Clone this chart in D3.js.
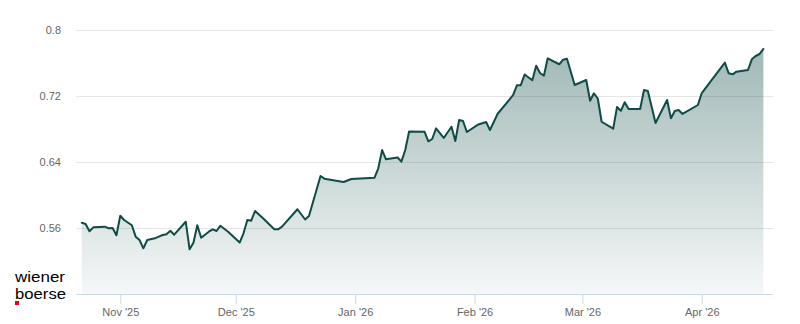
<!DOCTYPE html>
<html>
<head>
<meta charset="utf-8">
<script src="https://cdn.jsdelivr.net/npm/d3@7"></script>
<style>
    html, body { margin: 0; padding: 0; background: #fff; }
    svg { display: block; font-family: "Liberation Sans", Arial, sans-serif; }
</style>
</head>
<body>
<svg id="chart" width="800" height="324"></svg>
<script>
// 数据：交易日 + 收盘价
const dates = [
    "2025-10-22", "2025-10-23", "2025-10-24", "2025-10-25", "2025-10-28", "2025-10-29", "2025-10-30", "2025-10-31",
    "2025-11-01", "2025-11-02", "2025-11-04", "2025-11-05", "2025-11-06", "2025-11-07", "2025-11-08", "2025-11-10",
    "2025-11-11", "2025-11-12", "2025-11-13", "2025-11-14", "2025-11-15", "2025-11-18", "2025-11-19", "2025-11-20",
    "2025-11-21", "2025-11-22", "2025-11-24", "2025-11-25", "2025-11-26", "2025-11-27", "2025-11-29", "2025-12-02",
    "2025-12-03", "2025-12-04", "2025-12-05", "2025-12-06", "2025-12-08", "2025-12-11", "2025-12-12", "2025-12-13",
    "2025-12-17", "2025-12-19", "2025-12-20", "2025-12-23", "2025-12-24", "2025-12-29", "2025-12-31", "2026-01-06",
    "2026-01-07", "2026-01-08", "2026-01-09", "2026-01-12", "2026-01-13", "2026-01-14", "2026-01-15", "2026-01-19",
    "2026-01-20", "2026-01-21", "2026-01-22", "2026-01-24", "2026-01-26", "2026-01-27", "2026-01-28", "2026-01-29",
    "2026-01-30", "2026-02-02", "2026-02-04", "2026-02-05", "2026-02-07", "2026-02-10", "2026-02-11", "2026-02-12",
    "2026-02-13", "2026-02-14", "2026-02-16", "2026-02-17", "2026-02-18", "2026-02-19", "2026-02-20", "2026-02-23",
    "2026-02-24", "2026-02-25", "2026-02-27", "2026-03-02", "2026-03-03", "2026-03-04", "2026-03-05", "2026-03-06",
    "2026-03-09", "2026-03-10", "2026-03-11", "2026-03-12", "2026-03-13", "2026-03-16", "2026-03-17", "2026-03-18",
    "2026-03-20", "2026-03-23", "2026-03-24", "2026-03-25", "2026-03-26", "2026-03-27", "2026-03-31", "2026-04-01",
    "2026-04-07", "2026-04-08", "2026-04-09", "2026-04-10", "2026-04-13", "2026-04-14", "2026-04-15", "2026-04-16",
    "2026-04-17"
];

const prices = [
    0.5664, 0.5648, 0.5560, 0.5608, 0.5616, 0.5596, 0.5600, 0.5512,
    0.5749, 0.5697, 0.5633, 0.5495, 0.5455, 0.5354, 0.5455, 0.5475,
    0.5495, 0.5515, 0.5524, 0.5567, 0.5519, 0.5676, 0.5342, 0.5422,
    0.5633, 0.5482, 0.5555, 0.5584, 0.5564, 0.5628, 0.5555, 0.5424,
    0.5536, 0.5697, 0.5688, 0.5806, 0.5721, 0.5584, 0.5584, 0.5616,
    0.5827, 0.5703, 0.5745, 0.6230, 0.6198, 0.6158, 0.6194, 0.6208,
    0.6324, 0.6545, 0.6433, 0.6455, 0.6404, 0.6545, 0.6770, 0.6767,
    0.6651, 0.6679, 0.6808, 0.6691, 0.6828, 0.6655, 0.6909, 0.6897,
    0.6764, 0.6855, 0.6885, 0.6788, 0.6985, 0.7152, 0.7212, 0.7330,
    0.7331, 0.7461, 0.7390, 0.7567, 0.7479, 0.7446, 0.7657, 0.7585,
    0.7640, 0.7652, 0.7333, 0.7394, 0.7142, 0.7233, 0.7170, 0.6888,
    0.6804, 0.7067, 0.7021, 0.7124, 0.7042, 0.7042, 0.7273, 0.7261,
    0.6873, 0.7152, 0.6930, 0.7018, 0.7030, 0.6982, 0.7091, 0.7236,
    0.7604, 0.7475, 0.7463, 0.7495, 0.7515, 0.7645, 0.7685, 0.7709,
    0.7770
];

// 坐标轴刻度
const yTicks = [0.56, 0.64, 0.72, 0.8];
const monthTicks = ["2025-11-01", "2025-12-01", "2026-01-01", "2026-02-01", "2026-03-01", "2026-04-01"];
const monthLabels = ["Nov '25", "Dec '25", "Jan '26", "Feb '26", "Mar '26", "Apr '26"];

const lineColor = "#0f4b47";
const plot = { left: 76, right: 773, top: 30, bottom: 294 };

const parseDate = d3.timeParse("%Y-%m-%d");
const series = dates.map((d, i) => ({ date: parseDate(d), value: prices[i] }));

const svg = d3.select("#chart");

// 比例尺
const x = d3.scaleTime()
    .domain([new Date(2025, 9, 20, 12), new Date(2026, 3, 19, 12)])
    .range([plot.left, plot.right]);

const y = d3.scaleLinear()
    .domain([0.48, 0.8])
    .range([plot.bottom, plot.top]);

// 渐变填充
const defs = svg.append("defs");
const grad = defs.append("linearGradient")
    .attr("id", "areaFill")
    .attr("gradientUnits", "userSpaceOnUse")
    .attr("x1", 0).attr("x2", 0)
    .attr("y1", y(0.8)).attr("y2", y(0.48));
grad.append("stop").attr("offset", "0%").attr("stop-color", lineColor).attr("stop-opacity", 0.42);
grad.append("stop").attr("offset", "100%").attr("stop-color", lineColor).attr("stop-opacity", 0.04);

// 网格线 + y 轴标签
const yAxis = d3.axisLeft(y)
    .tickValues(yTicks)
    .tickSize(-(plot.right - plot.left))
    .tickPadding(15)
    .tickFormat(d3.format("~g"));

svg.append("g")
    .attr("class", "y-axis")
    .attr("transform", `translate(${plot.left},0)`)
    .call(yAxis)
    .call(g => g.select(".domain").remove())
    .call(g => g.selectAll(".tick line").attr("stroke", "#e6e6e6"))
    .call(g => g.selectAll(".tick text")
        .attr("fill", "#666")
        .style("font-size", "11px")
        .attr("dy", "0.35em"));

// 面积 + 折线
const area = d3.area()
    .x(d => x(d.date))
    .y0(y(0.48))
    .y1(d => y(d.value));

const line = d3.line()
    .x(d => x(d.date))
    .y(d => y(d.value));

svg.append("path")
    .datum(series)
    .attr("fill", "url(#areaFill)")
    .attr("d", area);

svg.append("path")
    .datum(series)
    .attr("fill", "none")
    .attr("stroke", lineColor)
    .attr("stroke-width", 2)
    .attr("stroke-linejoin", "round")
    .attr("stroke-linecap", "round")
    .attr("d", line);

// x 轴
const xAxis = d3.axisBottom(x)
    .tickValues(monthTicks.map(parseDate))
    .tickSize(10)
    .tickPadding(4)
    .tickFormat((d, i) => monthLabels[i]);

svg.append("g")
    .attr("class", "x-axis")
    .attr("transform", `translate(0,${plot.bottom})`)
    .call(xAxis)
    .call(g => g.select(".domain")
        .attr("stroke", "#ccd6eb")
        .attr("d", `M${plot.left},0.5H${plot.right}`))
    .call(g => g.selectAll(".tick line").attr("stroke", "#ccd6eb"))
    .call(g => g.selectAll(".tick text")
        .attr("fill", "#666")
        .style("font-size", "11px"));

// 标志
const logo = svg.append("g").attr("class", "logo");
logo.append("text")
    .attr("x", 15).attr("y", 282)
    .attr("fill", "#000")
    .style("font-size", "15px")
    .attr("textLength", 50)
    .attr("lengthAdjust", "spacingAndGlyphs")
    .text("wiener");
logo.append("text")
    .attr("x", 15).attr("y", 299)
    .attr("fill", "#000")
    .style("font-size", "15px")
    .attr("textLength", 51)
    .attr("lengthAdjust", "spacingAndGlyphs")
    .text("boerse");
logo.append("rect")
    .attr("x", 15).attr("y", 301)
    .attr("width", 4).attr("height", 4)
    .attr("fill", "#e2001a");
</script>
</body>
</html>
